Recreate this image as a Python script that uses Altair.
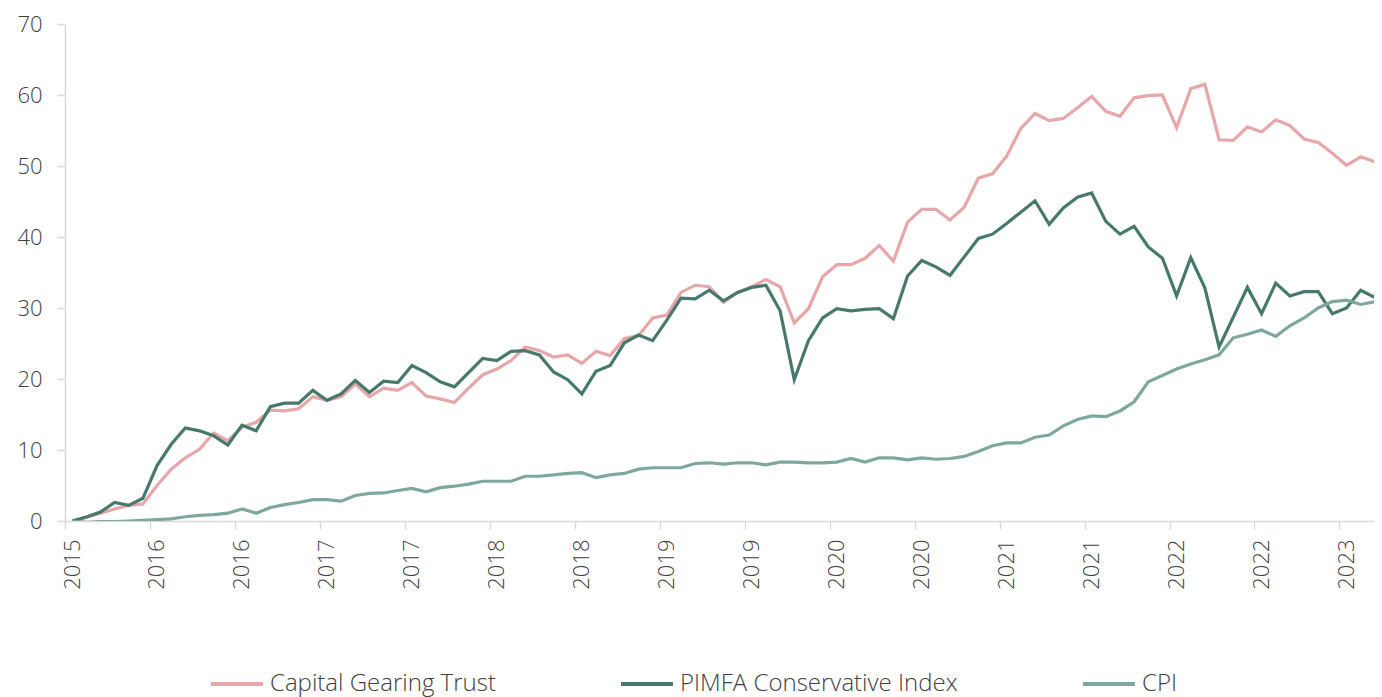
import json
import altair as alt
import pandas as pd

# ---- data (monthly points, cumulative % return) ----
capital_gearing = [
    0.0, 0.5, 1.1, 1.7, 2.2, 2.4, 5.0, 7.3, 8.9, 10.1, 12.4, 11.3, 13.2, 13.9, 15.6, 15.5,
    15.8, 17.5, 17.0, 17.5, 19.3, 17.5, 18.7, 18.4, 19.5, 17.6, 17.2, 16.7, 18.7, 20.6,
    21.4, 22.6, 24.5, 24.0, 23.1, 23.4, 22.2, 23.9, 23.3, 25.7, 26.1, 28.6, 29.0, 32.2,
    33.2, 33.0, 30.8, 32.2, 33.0, 34.0, 33.0, 27.9, 29.9, 34.4, 36.1, 36.1, 37.0, 38.8,
    36.6, 42.1, 43.9, 43.9, 42.4, 44.2, 48.3, 48.9, 51.4, 55.3, 57.4, 56.4, 56.7, 58.2,
    59.8, 57.7, 57.0, 59.6, 59.9, 60.0, 55.4, 60.9, 61.5, 53.7, 53.6, 55.5, 54.8, 56.5,
    55.7, 53.8, 53.3, 51.8, 50.1, 51.3, 50.6,
]
pimfa_conservative = [
    0.0, 0.56, 1.26, 2.6, 2.2, 3.2, 7.8, 10.8, 13.1, 12.7, 12.0, 10.7, 13.5, 12.7, 16.1,
    16.6, 16.6, 18.4, 17.0, 17.9, 19.8, 18.1, 19.7, 19.5, 21.9, 20.9, 19.6, 18.9, 20.9,
    22.9, 22.6, 23.9, 24.0, 23.4, 21.0, 19.9, 17.9, 21.1, 21.9, 25.1, 26.2, 25.4, 28.3,
    31.4, 31.3, 32.5, 31.0, 32.2, 32.9, 33.2, 29.6, 19.9, 25.4, 28.6, 29.9, 29.6, 29.8,
    29.9, 28.5, 34.5, 36.7, 35.8, 34.6, 37.2, 39.8, 40.4, 41.9, 43.5, 45.1, 41.8, 44.1,
    45.6, 46.2, 42.2, 40.4, 41.5, 38.6, 37.0, 31.7, 37.1, 32.8, 24.5, 28.7, 32.9, 29.2,
    33.5, 31.7, 32.3, 32.3, 29.2, 30.0, 32.5, 31.5,
]
cpi = [
    0.0, -0.2, -0.1, -0.1, 0.0, 0.1, 0.2, 0.3, 0.6, 0.8, 0.9, 1.1, 1.7, 1.1, 1.9, 2.3,
    2.6, 3.0, 3.0, 2.8, 3.6, 3.9, 3.95, 4.3, 4.6, 4.1, 4.7, 4.9, 5.2, 5.6, 5.6, 5.6, 6.3,
    6.3, 6.5, 6.7, 6.8, 6.1, 6.5, 6.7, 7.3, 7.5, 7.5, 7.5, 8.1, 8.2, 8.0, 8.2, 8.2, 7.9,
    8.3, 8.3, 8.2, 8.2, 8.3, 8.8, 8.3, 8.9, 8.9, 8.6, 8.9, 8.7, 8.8, 9.1, 9.8, 10.6, 11.0,
    11.0, 11.8, 12.1, 13.4, 14.3, 14.8, 14.7, 15.5, 16.8, 19.6, 20.5, 21.4, 22.1, 22.7,
    23.4, 25.8, 26.3, 26.9, 26.0, 27.5, 28.6, 30.0, 30.9, 31.1, 30.5, 30.9,
]
series_names = ["Capital Gearing Trust", "PIMFA Conservative Index", "CPI"]
series_colors = ["#E7A7AA", "#46796C", "#7EA89E"]
tick_labels = ["2015", "2016", "2016", "2017", "2017", "2018", "2018", "2019",
               "2019", "2020", "2020", "2021", "2021", "2022", "2022", "2023"]

rows = []
for name, vals in zip(series_names, [capital_gearing, pimfa_conservative, cpi]):
    for i, v in enumerate(vals):
        rows.append({"idx": i, "value": v, "series": name, "order": series_names.index(name)})
df = pd.DataFrame(rows)

FONT = "Open Sans"
TXT = "#404040"
AXC = "#d9d9d9"

tick_vals = [-0.5 + 6 * k for k in range(len(tick_labels))]
label_expr = json.dumps(tick_labels) + "[round((datum.value + 0.5) / 6)]"

chart = (
    alt.Chart(df)
    .mark_line(clip=True, strokeWidth=3.2)
    .encode(
        x=alt.X(
            "idx:Q",
            scale=alt.Scale(domain=[-0.5, 91.94], nice=False, zero=False),
            axis=alt.Axis(
                values=tick_vals,
                labelExpr=label_expr,
                labelAngle=270,
                labelOffset=7,
                labelPadding=10,
                tickSize=8,
                tickColor=AXC,
                tickWidth=1.5,
                domainColor=AXC,
                domainWidth=1.5,
                grid=False,
                title=None,
                labelFont=FONT,
                labelFontWeight=300,
                labelFontSize=22,
                labelColor=TXT,
            ),
        ),
        y=alt.Y(
            "value:Q",
            scale=alt.Scale(domain=[0, 70], nice=False),
            axis=alt.Axis(
                values=list(range(0, 71, 10)),
                tickSize=8,
                tickColor=AXC,
                tickWidth=1.5,
                domainColor=AXC,
                domainWidth=1.5,
                labelPadding=15,
                grid=False,
                title=None,
                labelFont=FONT,
                labelFontWeight=300,
                labelFontSize=22,
                labelColor=TXT,
            ),
        ),
        color=alt.Color(
            "series:N",
            scale=alt.Scale(domain=series_names, range=series_colors),
            legend=alt.Legend(
                title=None,
                orient="none",
                direction="horizontal",
                legendX=144,
                legendY=632,
                symbolType="stroke",
                symbolSize=2704,
                symbolStrokeWidth=4,
                labelFont=FONT,
                labelFontWeight=300,
                labelFontSize=24,
                labelColor=TXT,
                labelOffset=5,
                columnPadding=117,
                labelLimit=400,
                padding=0,
            ),
        ),
        order="order:Q",
    )
    .properties(
        width=1309,
        height=497,
        autosize=alt.AutoSizeParams(type="none"),
        padding={"left": 57, "top": 16, "right": 0, "bottom": 180},
    )
    .configure_view(stroke=None)
)

chart.save("out.html", embed_options={"renderer": "svg", "actions": False})
